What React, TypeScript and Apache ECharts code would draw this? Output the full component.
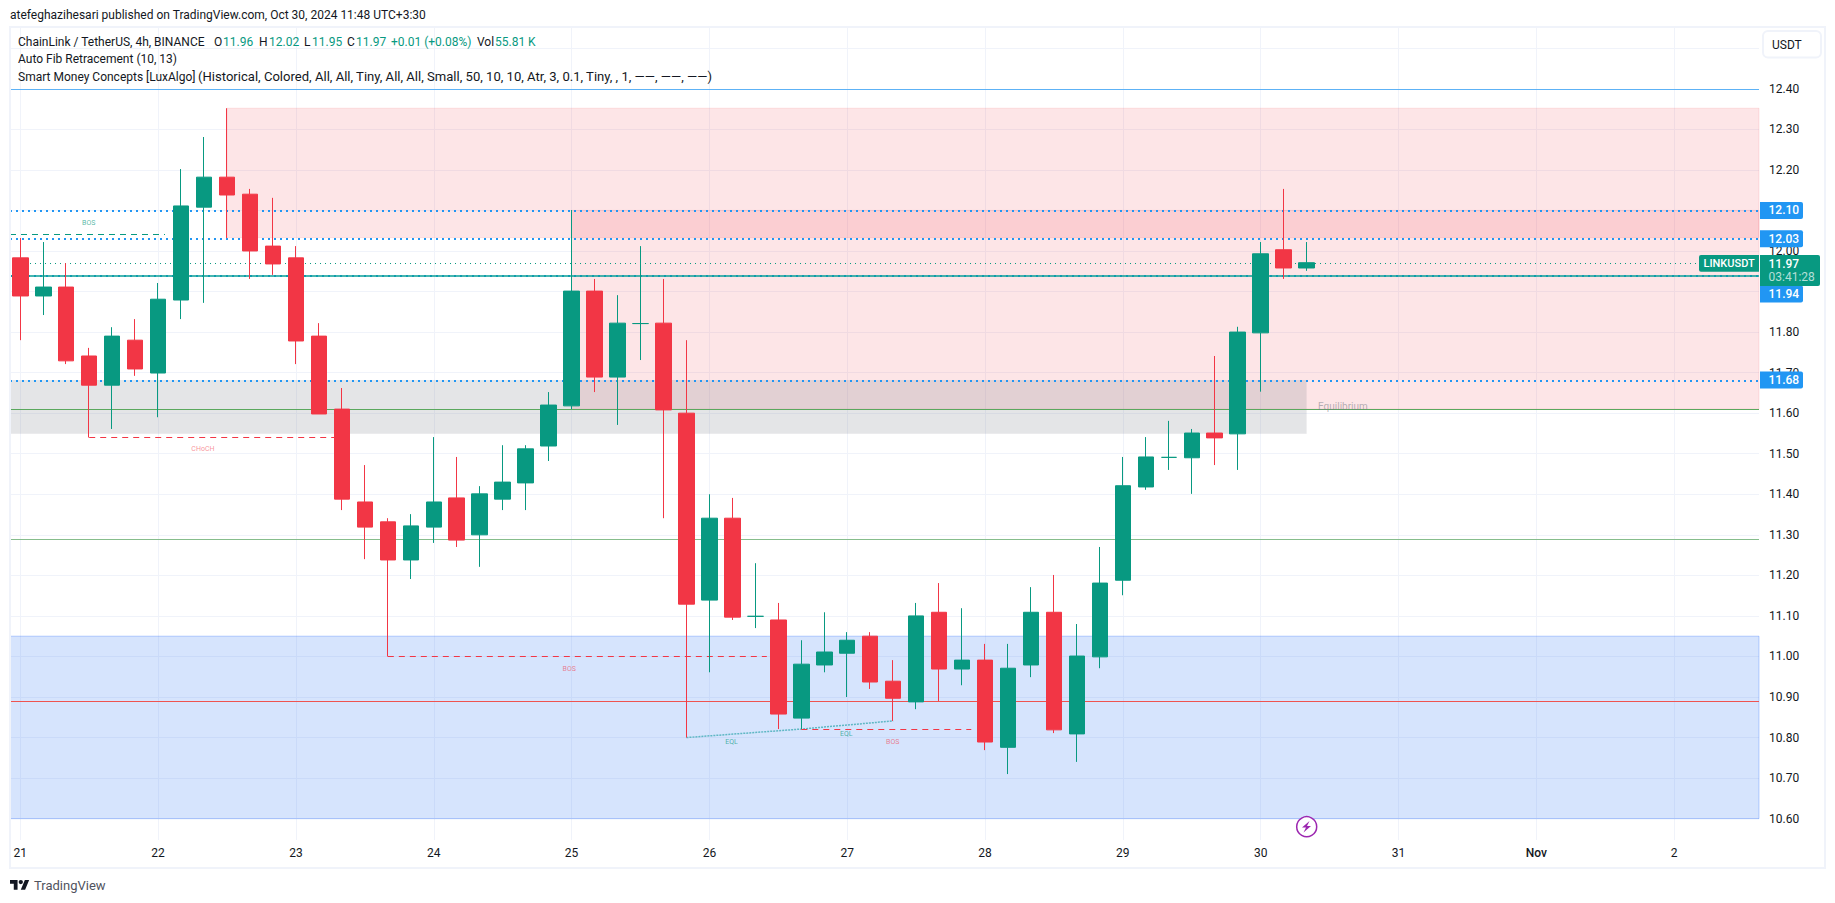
import React, { useEffect, useRef } from "react";
import * as echarts from "echarts";

const opens = [11.983,11.889,11.911,11.741,11.669,11.78,11.699,11.879,12.108,12.182,12.14,12.012,11.983,11.79,11.61,11.381,11.332,11.238,11.319,11.391,11.3,11.388,11.428,11.519,11.618,11.901,11.689,11.821,11.822,11.6,11.139,11.341,11.099,11.09,10.848,10.979,11.008,11.05,10.939,10.888,11.109,10.969,10.991,10.776,10.979,11.109,10.809,10.999,11.188,11.418,11.491,11.49,11.551,11.549,11.798,12.003,11.958];
const closes = [11.889,11.911,11.729,11.669,11.79,11.709,11.881,12.111,12.182,12.138,12.0,11.968,11.778,11.598,11.388,11.319,11.238,11.322,11.381,11.287,11.401,11.43,11.512,11.62,11.901,11.689,11.822,11.821,11.608,11.129,11.341,11.097,11.099,10.858,10.981,11.011,11.04,10.937,10.897,11.1,10.969,10.991,10.789,10.971,11.109,10.819,11.001,11.181,11.421,11.492,11.491,11.551,11.539,11.8,11.993,11.958,11.971];
const lows = [11.78,11.842,11.721,11.54,11.561,11.692,11.59,11.832,11.872,12.032,11.931,11.941,11.721,11.598,11.361,11.24,11.0,11.191,11.28,11.27,11.221,11.361,11.361,11.482,11.61,11.652,11.571,11.731,11.341,10.8,10.961,11.09,11.07,10.821,10.821,10.961,10.9,10.92,10.841,10.87,10.89,10.929,10.769,10.71,10.949,10.811,10.74,10.971,11.151,11.411,11.46,11.401,11.472,11.46,11.653,11.931,11.951];
const highs = [12.032,12.022,11.97,11.761,11.812,11.832,11.921,12.202,12.281,12.352,12.153,12.131,12.012,11.822,11.662,11.472,11.341,11.351,11.541,11.492,11.42,11.521,11.521,11.652,12.101,11.931,11.891,12.012,11.931,11.78,11.4,11.391,11.23,11.132,11.04,11.109,11.06,11.06,10.991,11.132,11.181,11.119,11.031,11.031,11.171,11.201,11.08,11.27,11.492,11.541,11.581,11.561,11.741,11.813,12.022,12.153,12.022];

const dayLabels = ["21","22","23","24","25","26","27","28","29","30","31","Nov","2"];
const barsPerDay = 6;
const priceTicks = [10.6,10.7,10.8,10.9,11.0,11.1,11.2,11.3,11.4,11.5,11.6,11.7,11.8,11.9,12.0,12.1,12.2,12.3,12.4,12.5];
const priceLabels = [10.6,10.7,10.8,10.9,11.0,11.1,11.2,11.3,11.4,11.5,11.6,11.7,11.8,12.0,12.2,12.3,12.4];

const xMin = -0.4484;
const xMax = 75.694;
const yMin = 10.5474;
const yMax = 12.5523;

const dottedLevels = [12.1, 12.03, 11.939, 11.682];
const lastPrice = 11.97;
const tealLevel = 11.9375;
const topLevel = 12.397;
const equilibrium = 11.613;
const midLevel = 11.293;
const lowLevel = 10.894;

// [fromBar, toBar, high, low]
const premiumZoneA = [9, xMax, 12.352, 12.033];
const premiumZoneB = [24, xMax, 12.1, 11.61];
const equilibriumZone = [xMin, 56, 11.682, 11.549];
const discountZone = [xMin, xMax, 11.05, 10.6];

const bosUp = [xMin, 6.3, 12.04];
const chochDown = [3, 14, 11.54];
const bosDown1 = [16, 32.5, 11.0];
const bosDown2 = [34, 41.4, 10.82];
const eqlPoints = [[29, 10.8], [34, 10.821], [38, 10.841]];

const GREEN = "#089981";
const RED = "#f23645";
const BLUE = "#2196f3";
const FONT = "Roboto, 'Noto Sans', sans-serif";
const INK = "#131722";

const annotations = [
  { text: "BOS", x: 2.98, y: 12.07, color: "rgba(8,153,129,0.7)", size: 7 },
  { text: "CHoCH", x: 7.95, y: 11.511, color: "rgba(242,54,69,0.55)", size: 7 },
  { text: "BOS", x: 23.9, y: 10.97, color: "rgba(242,54,69,0.6)", size: 7 },
  { text: "EQL", x: 30.96, y: 10.79, color: "rgba(8,153,129,0.7)", size: 7 },
  { text: "EQL", x: 35.96, y: 10.81, color: "rgba(8,153,129,0.7)", size: 7 },
  { text: "BOS", x: 37.98, y: 10.79, color: "rgba(242,54,69,0.6)", size: 7 },
  { text: "Equilibrium", x: 57.58, y: 11.616, color: "rgba(120,123,134,0.55)", size: 10 },
];

const legendRow = [
  { t: "ChainLink / TetherUS, 4h, BINANCE", x: 18, c: INK },
  { t: "O", x: 214, c: INK }, { t: "11.96", x: 223, c: GREEN },
  { t: "H", x: 259, c: INK }, { t: "12.02", x: 269, c: GREEN },
  { t: "L", x: 304, c: INK }, { t: "11.95", x: 312, c: GREEN },
  { t: "C", x: 347, c: INK }, { t: "11.97", x: 356, c: GREEN },
  { t: "+0.01 (+0.08%)", x: 391, c: GREEN },
  { t: "Vol", x: 477, c: INK }, { t: "55.81 K", x: 495, c: GREEN },
];

const hline = (v: number, color: string, width: number, type: any) => ({
  yAxis: v,
  lineStyle: { color, width, type },
});
const segment = (a: number, b: number, v: number, color: string, type: any) => [
  { xAxis: a, yAxis: v, lineStyle: { color, width: 1, type } },
  { xAxis: b, yAxis: v },
];
const zone = (z: number[], color: string, border: string) => [
  { xAxis: z[0], yAxis: z[2], itemStyle: { color, borderColor: border, borderWidth: 1 } },
  { xAxis: z[1], yAxis: z[3] },
];

echarts.graphic.registerShape(
  "tvLogo",
  (echarts.graphic as any).extendPath("M14 22H7V11H0V4h14v18zM28 22h-8l7.5-18h8L28 22zM24 8a4 4 0 1 1-8 0a4 4 0 1 1 8 0z", {})
);

export default function App() {
  const ref = useRef<HTMLDivElement>(null);
  useEffect(() => {
    document.body.style.margin = "0";
    const chart = echarts.init(ref.current!, null, { renderer: "svg" });
    const candleData = opens.map((o, i) => [i, o, closes[i], lows[i], highs[i]]);
    chart.setOption({
      animation: false,
      backgroundColor: "#ffffff",
      grid: { left: 10, top: 27, width: 1749, height: 813, containLabel: false },
      xAxis: {
        type: "value",
        min: xMin,
        max: xMax,
        axisLine: { show: false },
        axisTick: { show: false, customValues: dayLabels.map((_, i) => i * barsPerDay) },
        splitLine: { show: true, lineStyle: { color: "#f0f3fa", width: 1 } },
        axisLabel: {
          customValues: dayLabels.map((_, i) => i * barsPerDay),
          formatter: (v: number) => {
            const s = dayLabels[Math.round(v / barsPerDay)];
            return s === "Nov" ? "{b|Nov}" : s;
          },
          rich: { b: { fontFamily: FONT, fontSize: 12, fontWeight: 500, color: INK } },
          color: INK,
          fontFamily: FONT,
          fontSize: 12,
          margin: 7,
        },
      },
      yAxis: {
        type: "value",
        position: "right",
        min: yMin,
        max: yMax,
        axisLine: { show: false },
        axisTick: { show: false, customValues: priceTicks },
        splitLine: { show: true, lineStyle: { color: "#f0f3fa", width: 1 } },
        axisLabel: {
          customValues: priceLabels,
          formatter: (v: number) => v.toFixed(2),
          color: INK,
          fontFamily: FONT,
          fontSize: 12,
          margin: 10,
        },
      },
      series: [
        {
          type: "line",
          z: 1,
          data: [],
          silent: true,
          markLine: {
            silent: true,
            symbol: "none",
            label: { show: false },
            data: [
              ...dottedLevels.map((v) => hline(v, BLUE, 2, [2, 4])),
              segment(bosUp[0], bosUp[1], bosUp[2], GREEN, [6, 5]),
              segment(chochDown[0], chochDown[1], chochDown[2], RED, [6, 5]),
              segment(bosDown1[0], bosDown1[1], bosDown1[2], RED, [6, 5]),
              segment(bosDown2[0], bosDown2[1], bosDown2[2], RED, [6, 5]),
            ],
          },
        },
        {
          type: "line",
          z: 2,
          data: [],
          silent: true,
          markArea: {
            silent: true,
            label: { show: false },
            data: [
              zone(premiumZoneA, "rgba(242,54,69,0.13)", "rgba(242,54,69,0.12)"),
              zone(premiumZoneB, "rgba(242,54,69,0.13)", "rgba(242,54,69,0.12)"),
              zone(equilibriumZone, "rgba(120,123,134,0.2)", "rgba(120,123,134,0)"),
              zone(discountZone, "rgba(39,113,244,0.19)", "rgba(41,110,255,0.3)"),
            ],
          },
        },
        {
          type: "line",
          z: 3,
          data: eqlPoints,
          silent: true,
          showSymbol: false,
          lineStyle: { color: "#5fb7c4", width: 1.5, type: [2, 1] },
          markLine: {
            silent: true,
            symbol: "none",
            label: { show: false },
            data: [
              hline(topLevel, "#5db2f6", 1, "solid"),
              hline(lastPrice, GREEN, 1, [1, 4]),
              hline(tealLevel, "#0a9e96", 1.5, "solid"),
              hline(equilibrium, "#5aa85e", 1.2, "solid"),
              hline(midLevel, "#86bd8c", 1.2, "solid"),
              hline(lowLevel, "#ef5350", 1.2, "solid"),
            ],
          },
        },
        {
          type: "candlestick",
          z: 5,
          barWidth: 16,
          silent: true,
          itemStyle: {
            color: GREEN,
            color0: RED,
            borderColor: GREEN,
            borderColor0: RED,
            borderColorDoji: GREEN,
            borderWidth: 1,
          },
          data: candleData,
        },
      ],
    });

    const py = (v: number) => chart.convertToPixel({ yAxisIndex: 0 }, v) as number;
    const pt = (x: number, y: number) => chart.convertToPixel({ xAxisIndex: 0, yAxisIndex: 0 }, [x, y]) as number[];
    const text = (t: string, x: number, y: number, fill: string, size = 12, extra: any = {}, el: any = {}) => ({
      type: "text",
      z: 120,
      x,
      y,
      silent: true,
      ...el,
      style: { text: t, fill, fontFamily: FONT, fontSize: size, verticalAlign: "middle", ...extra },
    });
    const tag = (label: string, cy: number) => [
      { type: "rect", z: 110, silent: true, shape: { x: 1760, y: cy - 8.5, width: 43, height: 17, r: [0, 2, 2, 0] }, style: { fill: BLUE } },
      text(label, 1768.5, cy, "#ffffff", 12, { fontWeight: 500 }),
    ];

    const graphics: any[] = [
      { type: "rect", z: 100, silent: true, shape: { x: 10, y: 27, width: 1815, height: 841 }, style: { fill: "none", stroke: "#f0f3fa", lineWidth: 2 } },
      text("atefeghazihesari published on TradingView.com, Oct 30, 2024 11:48 UTC+3:30", 10, 15, INK),
      ...legendRow.map((r) => text(r.t, r.x, 41.7, r.c)),
      text("Auto Fib Retracement (10, 13)", 18, 59.3, INK),
      text("Smart Money Concepts [LuxAlgo]", 18, 76.7, INK),
      text("(Historical, Colored, All, All, Tiny, All, All, Small, 50, 10, 10, Atr, 3, 0.1, Tiny, , 1, \u2014\u2014, \u2014\u2014, \u2014\u2014)", 198, 76.7, INK, 12, {}, { scaleX: 1.09 }),
      { type: "rect", z: 105, silent: true, shape: { x: 1763, y: 31, width: 58, height: 26.5, r: 5 }, style: { fill: "#ffffff", stroke: "#f0f3fa", lineWidth: 2 } },
      text("USDT", 1772, 44.5, INK),
      ...tag("12.10", py(12.1)),
      ...tag("12.03", py(12.03)),
      ...tag("11.68", py(11.682)),
      ...tag("11.94", 294),
      { type: "rect", z: 112, silent: true, shape: { x: 1760, y: 255, width: 60, height: 31, r: [0, 2, 2, 0] }, style: { fill: GREEN } },
      text("11.97", 1768.5, 263.5, "#ffffff", 12, { fontWeight: 500 }),
      text("03:41:28", 1768.5, 277, "rgba(255,255,255,0.7)", 12),
      { type: "rect", z: 112, silent: true, shape: { x: 1699, y: 255, width: 60, height: 16.7, r: [2, 0, 0, 2] }, style: { fill: GREEN } },
      text("LINKUSDT", 1703.5, 263.5, "#ffffff", 11, { fontWeight: 500 }),
      ...annotations.map((a) => {
        const [x, y] = pt(a.x, a.y);
        return text(a.text, x, y, a.color, a.size, { align: "center" });
      }),
      { type: "circle", z: 106, silent: true, shape: { cx: 1306.7, cy: 826.7, r: 10 }, style: { fill: "#ffffff", stroke: "#9c27b0", lineWidth: 1.5 } },
      { type: "polygon", z: 107, silent: true, shape: { points: [[1309.5, 821], [1302, 827.5], [1306, 827.5], [1303.5, 832.5], [1311, 826], [1307, 826]] }, style: { fill: "#9c27b0" } },
      { type: "tvLogo", z: 100, silent: true, x: 10, y: 877.8, scaleX: 0.54, scaleY: 0.54, style: { fill: INK } },
      text("TradingView", 34, 885.5, "#50535e", 13),
    ];
    chart.setOption({ graphic: graphics });
    return () => chart.dispose();
  }, []);
  return <div ref={ref} style={{ position: "absolute", left: 0, top: 0, width: 1835, height: 903 }} />;
}
